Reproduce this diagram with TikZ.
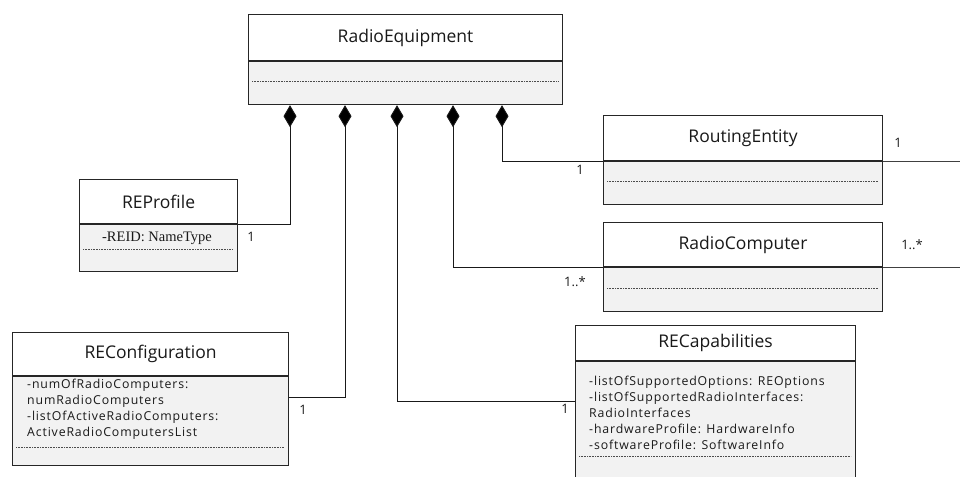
\documentclass[tikz,border=0pt]{standalone}
\usepackage{fontspec}
\setmainfont{Open Sans}
\newfontfamily\attrserif{Liberation Serif}
\newfontfamily\attrsans[LetterSpace=7]{Open Sans}
\usetikzlibrary{arrows.meta}

\tikzset{
  classhead/.style={draw=black!85, line width=1.1pt, fill=white, anchor=north west,
    inner sep=0pt, font=\fontsize{17.5}{19}\selectfont, text=black!90},
  classbody/.style={draw=black!85, line width=1.1pt, fill=black!5, anchor=north west,
    inner sep=0pt},
  sepline/.style={draw=black!70, line width=0.6pt, dash pattern=on 1pt off 0.6pt},
  compose/.style={draw=black!90, line width=0.9pt,
    {Diamond[length=22pt,width=13pt,fill=black]}-},
  assoc/.style={draw=black!75, line width=0.9pt},
  mult/.style={font=\fontsize{13}{14}\selectfont, text=black!90, inner sep=0pt},
  attrs/.style={font=\attrsans\fontsize{12.3}{16}\selectfont, text=black!90, align=left,
    anchor=north west, inner sep=0pt},
}

\begin{document}
\begin{tikzpicture}[x=1pt,y=-1pt]
  \useasboundingbox (0,0) rectangle (960,476);
  \clip (0,0) rectangle (960,476);

  % RadioEquipment
  \node[classhead, minimum width=314, minimum height=46] (re) at (248,14) {RadioEquipment};
  \node[classbody, minimum width=314, minimum height=43] (reb) at (re.south west) {};
  \draw[sepline] (252,81) -- (558,81);

  % RoutingEntity
  \node[classhead, minimum width=279, minimum height=45] (rt) at (603,115) {RoutingEntity};
  \node[classbody, minimum width=279, minimum height=43] (rtb) at (rt.south west) {};
  \draw[sepline] (607,181) -- (878,181);

  % RadioComputer
  \node[classhead, minimum width=279, minimum height=44] (rc) at (603,222) {RadioComputer};
  \node[classbody, minimum width=279, minimum height=44] (rcb) at (rc.south west) {};
  \draw[sepline] (607,288) -- (878,288);

  % REProfile
  \node[classhead, minimum width=158, minimum height=44] (rp) at (79,179) {REProfile};
  \node[classbody, minimum width=158, minimum height=47] (rpb) at (rp.south west) {};
  \node[font=\attrserif\fontsize{14.5}{16}\selectfont, text=black!90, inner sep=0pt]
    (rpattr) at (157,238) {-REID: NameType};
  \draw[sepline] (83,249) -- (233,249);

  % REConfiguration
  \node[classhead, minimum width=276, minimum height=43] (cf) at (12,332) {REConfiguration};
  \node[classbody, minimum width=276, minimum height=89] (cfb) at (cf.south west) {};
  \node[attrs] (cfattr) at (27,379) {-numOfRadioComputers:\\numRadioComputers\\-listOfActiveRadioComputers:\\ActiveRadioComputersList};
  \draw[sepline] (16,447) -- (284,447);

  % RECapabilities
  \node[classhead, minimum width=280, minimum height=35] (cp) at (575,325) {RECapabilities};
  \node[classbody, minimum width=280, minimum height=125] (cpb) at (cp.south west) {};
  \node[attrs] (cpattr) at (589,376) {-listOfSupportedOptions: REOptions\\-listOfSupportedRadioInterfaces:\\RadioInterfaces\\-hardwareProfile: HardwareInfo\\-softwareProfile: SoftwareInfo};
  \draw[sepline] (579,456) -- (851,456);

  % composition connectors
  \draw[compose] (reb.south -| 290,0) |- (rp.south east);
  \draw[compose] (reb.south -| 345,0) |- (cfb.east |- 0,397);
  \draw[compose] (reb.south -| 397,0) |- (cpb.west |- 0,401);
  \draw[compose] (reb.south -| 453,0) |- (rc.south west);
  \draw[compose] (reb.south -| 502,0) |- (rt.south west);

  % associations leaving to the right
  \coordinate (rtout) at (962,0);
  \coordinate (rcout) at (962,0);
  \draw[assoc] (rt.south east) -- (rt.south east -| rtout);
  \draw[assoc] (rc.south east) -- (rc.south east -| rcout);

  % multiplicities
  \node[mult] (m1) at (251,237) {1};
  \node[mult] (m2) at (303,410) {1};
  \node[mult] (m3) at (565,409) {1};
  \node[mult] (m4) at (580,170) {1};
  \node[mult] (m5) at (575,282) {1..*};
  \node[mult] (m6) at (898,143) {1};
  \node[mult] (m7) at (912,245) {1..*};
\end{tikzpicture}
\end{document}
